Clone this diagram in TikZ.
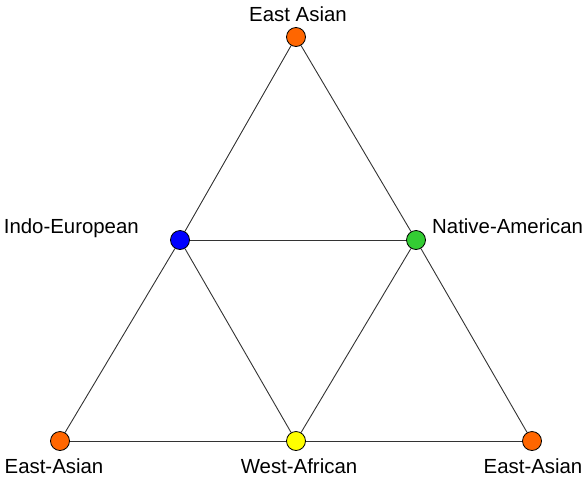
\documentclass[tikz,border=0pt]{standalone}
\usepackage{fontspec}
\setmainfont{Liberation Sans}
\definecolor{eorange}{HTML}{FF6600}
\definecolor{ieblue}{HTML}{0000FF}
\definecolor{nagreen}{HTML}{33CC33}
\definecolor{wayellow}{HTML}{FFFF00}
\definecolor{edgegray}{HTML}{333333}
\tikzset{
  pop/.style={circle, draw=black, line width=0.8pt, minimum size=19pt, inner sep=0pt},
  link/.style={draw=edgegray, line width=0.9pt},
  lbl/.style={inner sep=0pt, font=\fontsize{20.4}{24}\selectfont}
}
\begin{document}
\begin{tikzpicture}[x=1pt,y=-1pt]
\useasboundingbox (0,0) rectangle (586,480);
\node[pop, fill=eorange] (top) at (296,37) {};
\node[pop, fill=ieblue] (ie) at (180,240) {};
\node[pop, fill=nagreen] (na) at (416,240) {};
\node[pop, fill=eorange] (bl) at (60,441) {};
\node[pop, fill=wayellow] (wa) at (296,441) {};
\node[pop, fill=eorange] (br) at (532,441) {};

\draw[link] (top) -- (ie);
\draw[link] (top) -- (na);
\draw[link] (ie) -- (na);
\draw[link] (ie) -- (bl);
\draw[link] (ie) -- (wa);
\draw[link] (na) -- (wa);
\draw[link] (na) -- (br);
\draw[link] (bl) -- (wa);
\draw[link] (wa) -- (br);

\node[lbl, anchor=base] (ltop) at (298,21) {East Asian};
\node[lbl, anchor=base east] (lie) at (139,233) {Indo-European};
\node[lbl, anchor=base west] (lna) at (432,233) {Native-American};
\node[lbl, anchor=base] (lbl1) at (54,473) {East-Asian};
\node[lbl, anchor=base] (lwa) at (299,473) {West-African};
\node[lbl, anchor=base] (lbr) at (533,473) {East-Asian};
\end{tikzpicture}
\end{document}
